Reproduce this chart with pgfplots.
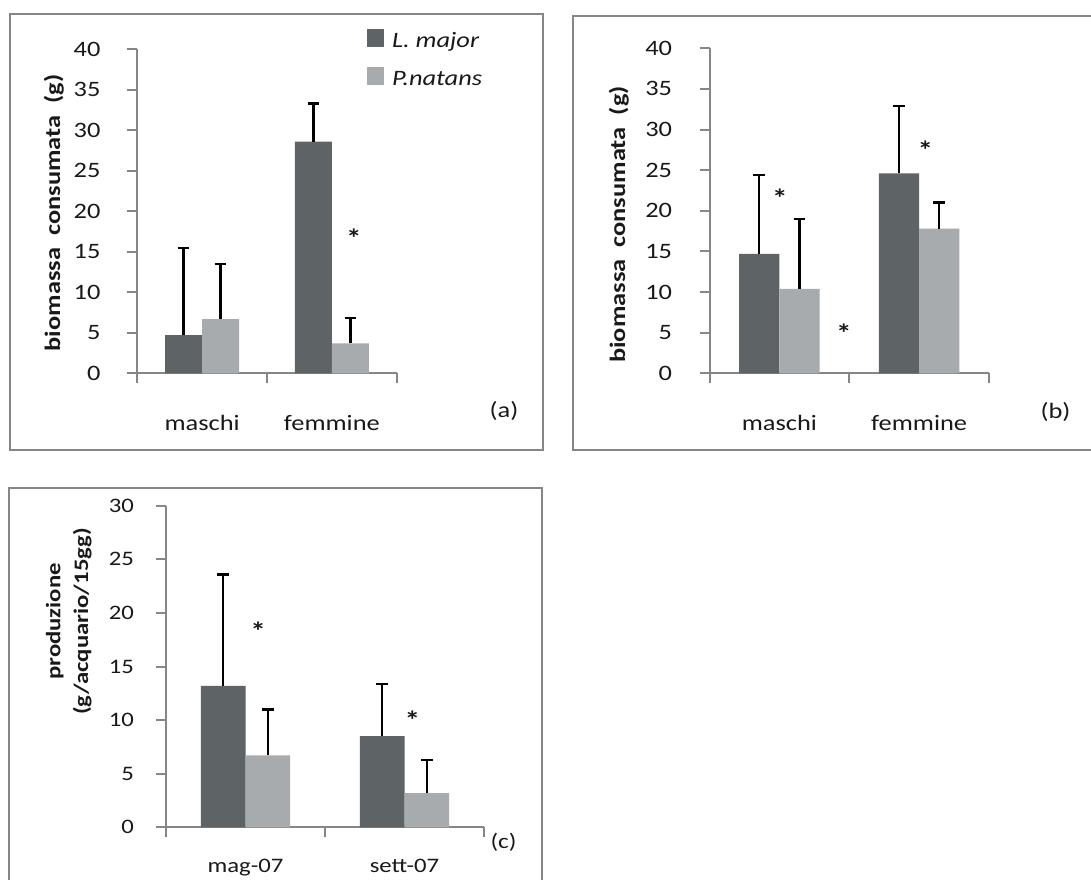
\documentclass[border=0pt]{standalone}
\usepackage{fontspec}
\setmainfont{Carlito}[FakeStretch=1.2]
\usepackage{pgfplots}
\pgfplotsset{compat=1.18}
\definecolor{axisgray}{RGB}{134,134,134}
\definecolor{framegray}{RGB}{134,134,134}
\definecolor{darkbar}{RGB}{94,99,102}
\definecolor{lightbar}{RGB}{168,171,174}
\definecolor{txt}{RGB}{25,25,25}
\pgfplotsset{
 panel/.style={
   scale only axis, enlargelimits=false, clip=false,
   axis x line=bottom, axis y line=left,
   axis line style={-, draw=axisgray, line width=1pt},
   tick align=outside, major tick length=5pt,
   tick style={draw=axisgray, line width=1pt},
   xmin=0, xmax=2, ymin=0,
   xtick={0,1,2}, xticklabels={},
   extra x ticks={0.5,1.5},
   extra x tick style={major tick length=0pt, xticklabel style={anchor=base}},
   /pgf/number format/assume math mode=true,
   yticklabel style={anchor=east, inner sep=0pt, xshift=-13.2pt},
   xticklabel style={inner sep=0pt},
   ylabel style={font=\bfseries\fontsize{11}{13}\selectfont, text=txt, anchor=center},
   tick label style={font=\fontsize{11}{13}\selectfont, text=txt},
   ybar,
 },
 myerr/.style={/pgfplots/error bars/y dir=plus, /pgfplots/error bars/y explicit,
   /pgfplots/error bars/error bar style={line width=1.2pt, black},
   /pgfplots/error bars/error mark options={line width=1.2pt, black, mark size=2.9pt, rotate=90}},
 sqlegend/.style={legend image code/.code={\fill[##1,/tikz/.cd] (0pt,-3.25pt) rectangle (8.8pt,5.75pt); \path (12.65pt,0pt);}},
}
\tikzset{ast/.style={font=\bfseries\fontsize{13}{15}\selectfont, text=txt, yshift=-2.1pt}}
\begin{document}
\begin{tikzpicture}
% frames
\draw[framegray, line width=1pt] (4.95pt,214.5pt) rectangle (271.65pt,432.4pt);
\draw[framegray, line width=1pt] (286.7pt,214.55pt) rectangle (560pt,431.65pt);
\draw[framegray, line width=1pt] (4.5pt,-10pt) rectangle (271.15pt,195.35pt);

% (a)
\begin{axis}[panel, at={(68.65pt,252.85pt)}, anchor=south west,
  width=129.7pt, height=162pt, ymax=40, ytick={0,5,...,40},
  extra x tick labels={maschi,femmine},
  extra x tick style={xticklabel style={yshift=-28.35pt}},
  ylabel={biomassa\ \ consumata\ \ (g)},
  ylabel style={at={(axis description cs:-0.322,0.495)}},
  legend style={at={(0.8844,1.0617)}, anchor=north west, draw=none, fill=none,
    inner sep=0pt, outer sep=0pt, font=\itshape\fontsize{11}{13}\selectfont,
    row sep=7.35pt, nodes={inner sep=0pt, text height=9pt, text depth=2.5pt, text=txt}},
  legend cell align=left]
\addplot[fill=darkbar, draw=none, bar width=18.5pt, bar shift=-9.25pt, sqlegend, myerr]
  coordinates {(0.5,4.7) +- (0,10.8) (1.5,28.6) +- (0,4.7)};
\addplot[fill=lightbar, draw=none, bar width=18.5pt, bar shift=9.25pt, sqlegend, myerr]
  coordinates {(0.5,6.7) +- (0,6.8) (1.5,3.7) +- (0,3.1)};
\legend{L. major, P.natans}
\node[ast] at (axis cs:1.67,17.2) {*};
\end{axis}

% (b)
\begin{axis}[panel, at={(354.75pt,252.85pt)}, anchor=south west,
  width=139.75pt, height=162.5pt, ymax=40, ytick={0,5,...,40},
  extra x tick labels={maschi,femmine},
  extra x tick style={xticklabel style={yshift=-28.35pt}},
  yticklabel style={xshift=-0.3pt},
  ylabel={biomassa\ \ consumata\ \ (g)},
  ylabel style={at={(axis description cs:-0.3245,0.458)}}]
\addplot[fill=darkbar, draw=none, bar width=20.1pt, bar shift=-10.05pt, myerr]
  coordinates {(0.5,14.7) +- (0,9.7) (1.5,24.6) +- (0,8.3)};
\addplot[fill=lightbar, draw=none, bar width=20.1pt, bar shift=10.05pt, myerr]
  coordinates {(0.5,10.4) +- (0,8.6) (1.5,17.8) +- (0,3.2)};
\node[ast] at (axis cs:0.504,22.1) {*};
\node[ast] at (axis cs:0.962,5.5) {*};
\node[ast] at (axis cs:1.545,28.0) {*};
\end{axis}

% (c)
\begin{axis}[panel, at={(83pt,25.85pt)}, anchor=south west,
  width=159pt, height=160.8pt, ymax=30, ytick={0,5,...,30},
  extra x tick labels={mag-07,sett-07},
  extra x tick style={xticklabel style={yshift=-22.5pt}},
  tick label style={font=\fontsize{10.3}{12}\selectfont},
  yticklabel style={xshift=2.4pt},
  ylabel={produzione\\(g/acquario/15gg)},
  ylabel style={align=center, font=\bfseries\fontsize{10.3}{13.85}\selectfont,
    at={(axis description cs:-0.306,0.64)}}]
\addplot[fill=darkbar, draw=none, bar width=22.3pt, bar shift=-11.15pt, myerr]
  coordinates {(0.5,13.2) +- (0,10.4) (1.5,8.5) +- (0,4.85)};
\addplot[fill=lightbar, draw=none, bar width=22.3pt, bar shift=11.15pt, myerr]
  coordinates {(0.5,6.7) +- (0,4.3) (1.5,3.2) +- (0,3.1)};
\node[ast] at (axis cs:0.58,18.7) {*};
\node[ast] at (axis cs:1.55,10.4) {*};
\end{axis}

\node[font=\fontsize{11}{13}\selectfont, text=txt] at (252pt,234.2pt) {(a)};
\node[font=\fontsize{11}{13}\selectfont, text=txt] at (527.75pt,233.7pt) {(b)};
\node[font=\fontsize{10.5}{13}\selectfont, text=txt] at (251.75pt,18.15pt) {(c)};

\pgfresetboundingbox
\path[use as bounding box] (0pt,0pt) rectangle (545.5pt,439.5pt);
\end{tikzpicture}
\end{document}
